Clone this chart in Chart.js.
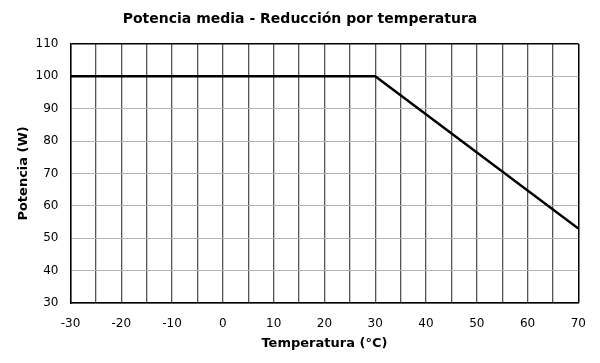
<!DOCTYPE html>
<html>
<head>
<meta charset="utf-8">
<script src="https://cdn.jsdelivr.net/npm/chart.js@4"></script>
<style>
  html, body { margin: 0; padding: 0; background: #fff; }
  #wrap { width: 600px; height: 363px; }
</style>
</head>
<body>
<div id="wrap"><canvas id="powerChart"></canvas></div>
<script>
// Datos de la curva
const temperatures = [-30, 30, 70]
const powerValues = [100, 100, 53]

// Ejes
const xMin = -30
const xMax = 70
const yMin = 30
const yMax = 110

const FONT = "'DejaVu Sans', Verdana, sans-serif"

const ctx = document.getElementById("powerChart").getContext("2d")

new Chart(ctx, {
  type: "line",
  data: {
    datasets: [
      {
        data: temperatures.map((t, i) => ({ x: t, y: powerValues[i] })),
        borderColor: "#000",
        borderWidth: 2.5,
        pointRadius: 0,
        tension: 0,
        fill: false,
      },
    ],
  },
  options: {
    responsive: true,
    maintainAspectRatio: false,
    animation: false,
    layout: { padding: { left: 16, right: 16, top: 4, bottom: 12 } },
    plugins: {
      legend: { display: false },
      tooltip: { enabled: false },
      title: {
        display: true,
        text: "Potencia media - Reducción por temperatura",
        color: "#000",
        font: { family: FONT, size: 14, weight: "bold" },
        padding: { top: 7, bottom: 16 },
      },
    },
    scales: {
      x: {
        type: "linear",
        min: xMin,
        max: xMax,
        ticks: {
          stepSize: 5,
          autoSkip: false,
          maxRotation: 0,
          color: "#000",
          font: { family: FONT, size: 12 },
          padding: 14,
          callback: (value) => (value % 10 === 0 ? value : ""),
        },
        grid: {
          color: (c) => (c.tick && c.tick.value === xMax ? "#000" : "#555"),
          lineWidth: (c) => (c.tick && c.tick.value === xMax ? 1.5 : 1.3),
          drawTicks: false,
        },
        border: { color: "#000", width: 1.5 },
        title: {
          display: true,
          text: "Temperatura (°C)",
          color: "#000",
          font: { family: FONT, size: 13, weight: "bold" },
          padding: { top: -10, bottom: 0 },
        },
      },
      y: {
        min: yMin,
        max: yMax,
        ticks: {
          stepSize: 10,
          color: "#000",
          font: { family: FONT, size: 12 },
          padding: 12,
        },
        grid: {
          color: (c) => (c.tick && c.tick.value === yMax ? "#000" : "#b4b4b4"),
          lineWidth: (c) => (c.tick && c.tick.value === yMax ? 1.5 : 1),
          drawTicks: false,
        },
        border: { color: "#000", width: 1.5 },
        title: {
          display: true,
          text: "Potencia (W)",
          color: "#000",
          font: { family: FONT, size: 13, weight: "bold" },
          padding: { top: 0, bottom: -8 },
        },
      },
    },
  },
})
</script>
</body>
</html>
